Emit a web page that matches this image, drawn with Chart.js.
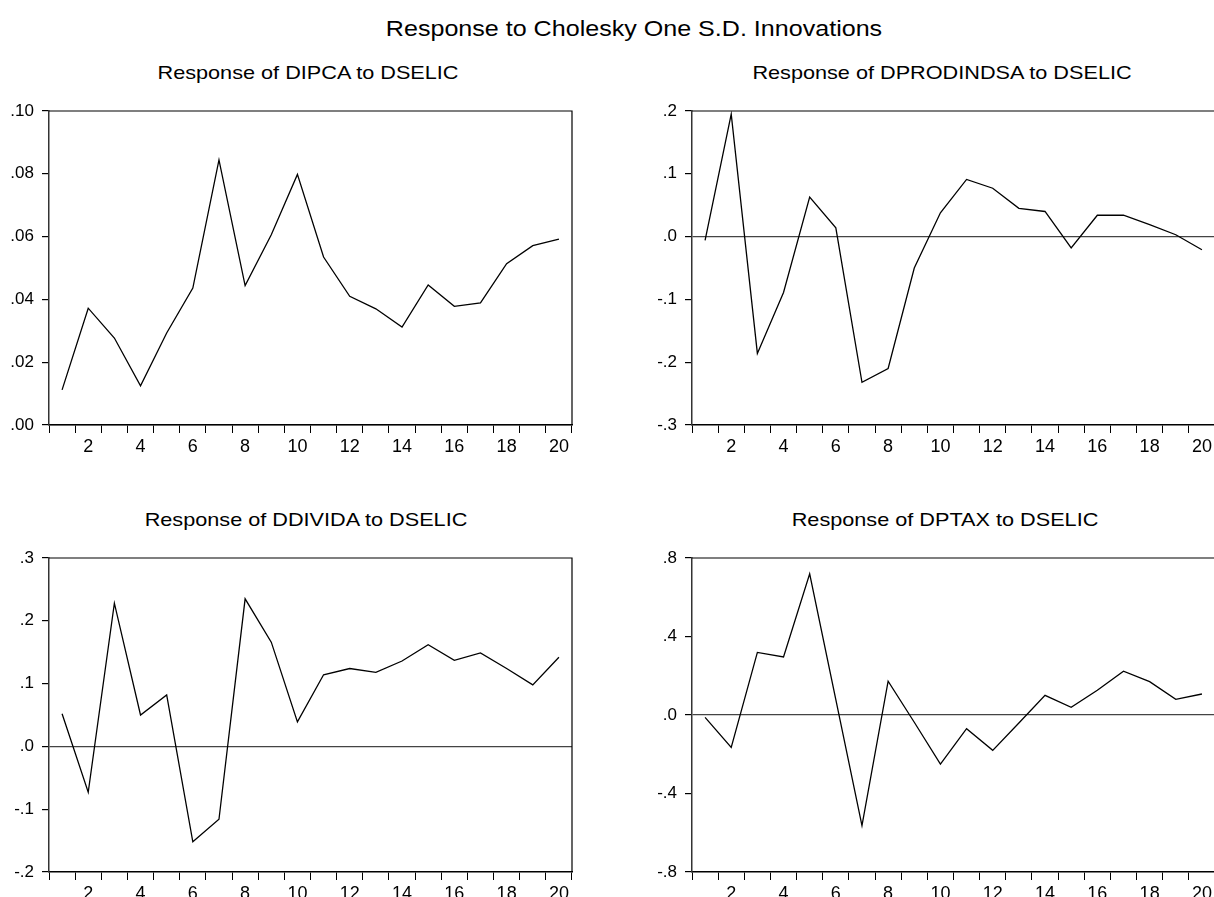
<!DOCTYPE html>
<html>
<head>
<meta charset="utf-8">
<script src="https://cdn.jsdelivr.net/npm/chart.js@4/dist/chart.umd.min.js"></script>
<style>
  html, body { margin:0; padding:0; background:#fff; overflow:hidden; width:1214px; height:897px; }
  .ttl { position:absolute; font-family:"Liberation Sans", Arial, sans-serif; color:#000; white-space:nowrap; text-align:center; transform:scaleX(1.14); }
  #main { left:0; width:1268px; top:16px; font-size:22px; }
  .sub { font-size:19px; width:600px; }
  canvas { position:absolute; }
</style>
</head>
<body>
<script>
// ---- data ----
const periods = ['1','2','3','4','5','6','7','8','9','10','11','12','13','14','15','16','17','18','19','20'];
const respDIPCA = [0.0112,0.0372,0.0277,0.0125,0.0293,0.0436,0.0844,0.0444,0.0606,0.0798,0.0535,0.0410,0.0370,0.0312,0.0446,0.0378,0.0389,0.0514,0.0571,0.0592];
const respDPRODINDSA = [-0.006,0.195,-0.186,-0.089,0.063,0.014,-0.232,-0.210,-0.050,0.038,0.091,0.077,0.045,0.040,-0.018,0.034,0.034,0.019,0.003,-0.021];
const respDDIVIDA = [0.052,-0.073,0.228,0.050,0.082,-0.152,-0.116,0.235,0.166,0.039,0.114,0.124,0.118,0.136,0.162,0.137,0.149,0.124,0.098,0.142];
const respDPTAX = [-0.012,-0.165,0.319,0.296,0.719,0.078,-0.564,0.172,-0.037,-0.250,-0.070,-0.180,-0.041,0.100,0.039,0.126,0.223,0.170,0.080,0.107];
// y axis ranges / tick steps / decimals per panel
const yMin = [0.00, -0.3, -0.2, -0.8];
const yMax = [0.10, 0.2, 0.3, 0.8];
const yStep = [0.02, 0.1, 0.1, 0.4];
const yDec = [2, 1, 1, 1];
const mainTitle = 'Response to Cholesky One S.D. Innovations';
const subTitles = ['Response of DIPCA to DSELIC','Response of DPRODINDSA to DSELIC','Response of DDIVIDA to DSELIC','Response of DPTAX to DSELIC'];
const series = [respDIPCA, respDPRODINDSA, respDDIVIDA, respDPTAX];

// ---- layout ----
const panelPos = [ {left:0, top:91}, {left:643, top:91}, {left:0, top:538}, {left:643, top:538} ];
const subPos = [ {left:8, top:62}, {left:642, top:62}, {left:6, top:509}, {left:645, top:509} ];

const FONT = '"Liberation Sans", Arial, sans-serif';

const m = document.createElement('div');
m.className = 'ttl'; m.id = 'main'; m.textContent = mainTitle;
document.body.appendChild(m);

function fmt(v, d) {
  let s = Math.abs(v).toFixed(d);
  if (s.startsWith('0')) s = s.slice(1);
  return (v < -1e-9 ? '-' : '') + s;
}

const framePlugin = {
  id: 'frame',
  afterDatasetsDraw(chart) {
    const a = chart.chartArea, c = chart.ctx;
    c.save();
    c.strokeStyle = '#000'; c.lineWidth = 1.2;
    c.beginPath();
    c.moveTo(a.left, a.top); c.lineTo(a.right, a.top); c.lineTo(a.right, a.bottom);
    c.stroke();
    c.restore();
  }
};

for (let i = 0; i < 4; i++) {
  const st = document.createElement('div');
  st.className = 'ttl sub';
  st.style.left = subPos[i].left + 'px';
  st.style.top = subPos[i].top + 'px';
  st.textContent = subTitles[i];
  document.body.appendChild(st);

  const cv = document.createElement('canvas');
  cv.width = 600; cv.height = 380;
  cv.style.left = panelPos[i].left + 'px';
  cv.style.top = panelPos[i].top + 'px';
  document.body.appendChild(cv);

  const dec = yDec[i];
  new Chart(cv.getContext('2d'), {
    type: 'line',
    data: {
      labels: periods,
      datasets: [{ data: series[i], borderColor:'#000', borderWidth:1.3, pointRadius:0, tension:0, fill:false }]
    },
    options: {
      responsive:false, animation:false, devicePixelRatio:1,
      layout: { padding: { top:20, right:28, left:0, bottom:0 } },
      plugins: { legend:{display:false}, tooltip:{enabled:false}, title:{display:false} },
      scales: {
        x: {
          type:'category', offset:true,
          grid: { offset:true, drawOnChartArea:false, drawTicks:true, tickLength:8, tickColor:'#000', tickWidth:1 },
          border: { color:'#000', width:1.5 },
          ticks: { autoSkip:false, maxRotation:0, padding:3, color:'#000', font:{family:FONT, size:18},
                   callback: (v, idx) => ((idx + 1) % 2 === 0 ? periods[idx] : '') },
          afterFit: s => { s.height = 46; }
        },
        y: {
          min: yMin[i], max: yMax[i],
          ticks: { stepSize: yStep[i], padding:8, color:'#000', font:{family:FONT, size:17},
                   callback: v => fmt(v, dec) },
          grid: { drawOnChartArea:true, tickLength:7, tickColor:'#000', lineWidth:1.2,
                  color: ctx => (ctx.tick && Math.abs(ctx.tick.value) < 1e-9) ? '#444' : 'rgba(0,0,0,0)' },
          border: { color:'#333', width:1.5 },
          afterFit: s => { s.width = 49; }
        }
      }
    },
    plugins: [framePlugin]
  });
}
</script>
</body>
</html>
